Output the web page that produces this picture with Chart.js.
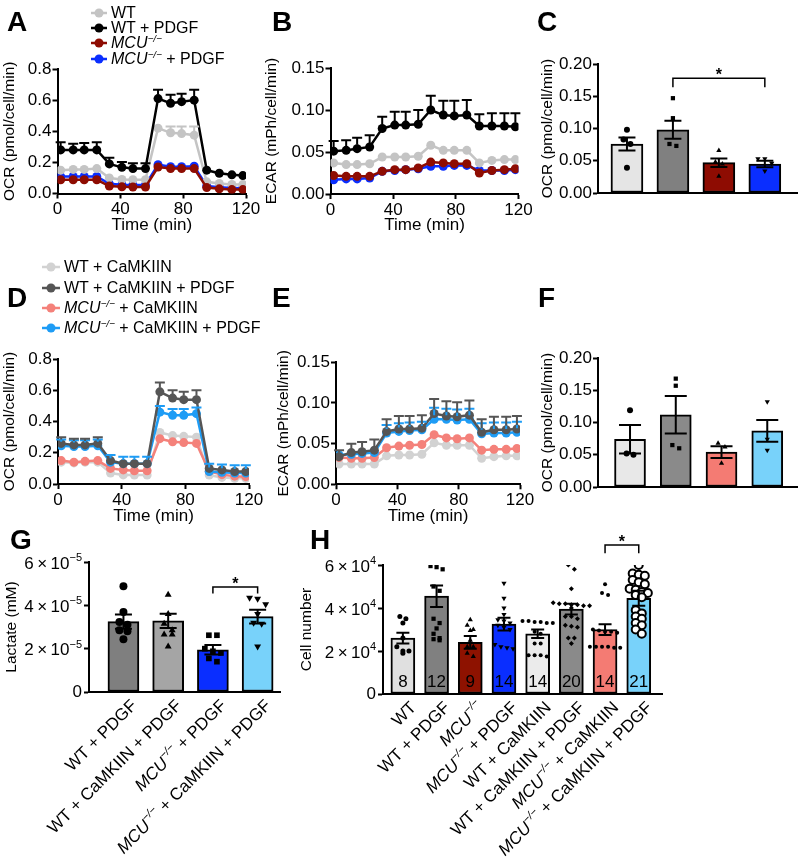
<!DOCTYPE html>
<html>
<head>
<meta charset="utf-8">
<title>OCR / ECAR / lactate / cell number</title>
<script src="https://cdn.jsdelivr.net/npm/chart.js@4.4.1/dist/chart.umd.min.js"></script>
<style>
  body { margin: 0; background: #fff; }
  #fig { position: relative; width: 800px; height: 866px; overflow: hidden; font-family: Arial, "Liberation Sans", sans-serif; color: #000; }
  #fig canvas { position: absolute; left: 0; top: 0; }
  .letter { position: absolute; font-size: 28px; font-weight: bold; line-height: 28px; }
  .key { position: absolute; height: 16px; display: flex; align-items: center; font-size: 16px; white-space: nowrap; }
  .key svg { margin-right: 4px; flex: none; }
  .key span { white-space: pre; }
  .key sup { font-size: 62%; vertical-align: 0.6em; line-height: 0; }
</style>
</head>
<body>
<div id="fig">
  <canvas id="chartA" width="800" height="866"></canvas>
  <canvas id="chartB" width="800" height="866"></canvas>
  <canvas id="chartC" width="800" height="866"></canvas>
  <canvas id="chartD" width="800" height="866"></canvas>
  <canvas id="chartE" width="800" height="866"></canvas>
  <canvas id="chartF" width="800" height="866"></canvas>
  <canvas id="chartG" width="800" height="866"></canvas>
  <canvas id="chartH" width="800" height="866"></canvas>
</div>
<script>
const FONT = 'Arial, "Liberation Sans", Helvetica, sans-serif';
const PAGE_W = 800, PAGE_H = 866;

// ---- data ----
const timeMin = [2, 10, 17, 25, 33, 41, 48, 56, 64, 72, 79, 87, 95, 103, 111, 118];

const groupsTop = ['WT', 'WT + PDGF', 'MCU−/−', 'MCU−/− + PDGF'];
const colorsTop = ['#c4c4c4', '#000000', '#8e0c02', '#0a2eff'];
const groupsMid = ['WT + CaMKIIN', 'WT + CaMKIIN + PDGF', 'MCU−/− + CaMKIIN', 'MCU−/− + CaMKIIN + PDGF'];
const colorsMid = ['#d2d2d2', '#555555', '#f4817a', '#1e9cf5'];

// A: OCR
const aWT = [0.150, 0.155, 0.155, 0.160, 0.100, 0.090, 0.088, 0.088, 0.420, 0.390, 0.385, 0.375, 0.075, 0.065, 0.058, 0.058];
const aWTerr = [0.012, 0.010, 0.010, 0.010, 0.008, 0.008, 0.008, 0.008, 0.032, 0.040, 0.045, 0.055, 0.008, 0.008, 0.008, 0.008];
const aWTpdgf = [0.280, 0.280, 0.280, 0.280, 0.190, 0.168, 0.160, 0.160, 0.610, 0.580, 0.590, 0.600, 0.150, 0.130, 0.120, 0.115];
const aWTpdgfErr = [0.050, 0.040, 0.045, 0.050, 0.040, 0.035, 0.035, 0.035, 0.057, 0.054, 0.051, 0.067, 0.018, 0.025, 0.026, 0.031];
const aMCU = [0.088, 0.088, 0.088, 0.088, 0.048, 0.043, 0.042, 0.042, 0.170, 0.160, 0.160, 0.160, 0.038, 0.030, 0.025, 0.025];
const aMCUerr = [0.006, 0.006, 0.006, 0.006, 0.005, 0.005, 0.005, 0.005, 0.008, 0.008, 0.008, 0.008, 0.005, 0.005, 0.005, 0.005];
const aMCUpdgf = [0.110, 0.110, 0.110, 0.110, 0.062, 0.057, 0.055, 0.055, 0.185, 0.172, 0.172, 0.175, 0.048, 0.040, 0.036, 0.034];
const aMCUpdgfErr = [0.008, 0.008, 0.008, 0.008, 0.006, 0.006, 0.006, 0.006, 0.010, 0.010, 0.010, 0.010, 0.006, 0.006, 0.006, 0.006];

// B: ECAR
const bWT = [0.037, 0.035, 0.035, 0.036, 0.044, 0.044, 0.044, 0.045, 0.058, 0.052, 0.052, 0.052, 0.037, 0.040, 0.041, 0.041];
const bWTerr = [0.004, 0.004, 0.004, 0.004, 0.004, 0.004, 0.004, 0.004, 0.004, 0.004, 0.004, 0.004, 0.004, 0.004, 0.004, 0.004];
const bWTpdgf = [0.051, 0.052, 0.054, 0.056, 0.078, 0.082, 0.082, 0.083, 0.100, 0.094, 0.093, 0.094, 0.081, 0.081, 0.081, 0.080];
const bWTpdgfErr = [0.012, 0.012, 0.013, 0.014, 0.014, 0.016, 0.016, 0.017, 0.017, 0.017, 0.018, 0.018, 0.014, 0.015, 0.015, 0.016];
const bMCU = [0.022, 0.021, 0.021, 0.021, 0.027, 0.029, 0.029, 0.031, 0.038, 0.037, 0.036, 0.036, 0.025, 0.028, 0.029, 0.030];
const bMCUerr = [0.002, 0.002, 0.002, 0.002, 0.002, 0.002, 0.002, 0.002, 0.002, 0.002, 0.002, 0.002, 0.002, 0.002, 0.002, 0.002];
const bMCUpdgf = [0.017, 0.018, 0.018, 0.019, 0.027, 0.028, 0.029, 0.030, 0.033, 0.033, 0.034, 0.034, 0.028, 0.028, 0.028, 0.029];
const bMCUpdgfErr = [0.002, 0.002, 0.002, 0.002, 0.002, 0.002, 0.002, 0.002, 0.002, 0.002, 0.002, 0.002, 0.002, 0.002, 0.002, 0.002];

// C: OCR summary
const cMean = [0.076, 0.098, 0.047, 0.045];
const cSem = [0.010, 0.014, 0.0065, 0.005];
const cPts = [[0.098, 0.083, 0.076, 0.039], [0.147, 0.116, 0.076, 0.073], [0.066, 0.048, 0.045, 0.026], [0.053, 0.053, 0.046, 0.034]];
const cSig = [1, 3, 0.178, 0.164];

// D: OCR with CaMKIIN
const dWT = [0.140, 0.135, 0.140, 0.140, 0.070, 0.058, 0.057, 0.057, 0.330, 0.310, 0.305, 0.300, 0.057, 0.042, 0.037, 0.036];
const dWTerr = [0.010, 0.010, 0.010, 0.010, 0.008, 0.008, 0.008, 0.008, 0.010, 0.010, 0.010, 0.010, 0.008, 0.008, 0.008, 0.008];
const dWTpdgf = [0.260, 0.250, 0.250, 0.260, 0.150, 0.130, 0.130, 0.130, 0.590, 0.550, 0.540, 0.540, 0.100, 0.090, 0.080, 0.080];
const dWTpdgfErr = [0.040, 0.040, 0.040, 0.040, 0.030, 0.030, 0.030, 0.030, 0.060, 0.050, 0.050, 0.060, 0.030, 0.030, 0.030, 0.030];
const dMCU = [0.150, 0.140, 0.145, 0.150, 0.100, 0.090, 0.085, 0.085, 0.290, 0.270, 0.265, 0.260, 0.080, 0.060, 0.050, 0.047];
const dMCUerr = [0.010, 0.010, 0.010, 0.010, 0.010, 0.010, 0.010, 0.010, 0.010, 0.010, 0.010, 0.010, 0.010, 0.010, 0.010, 0.010];
const dMCUpdgf = [0.245, 0.240, 0.240, 0.245, 0.140, 0.130, 0.130, 0.130, 0.460, 0.440, 0.440, 0.450, 0.080, 0.075, 0.070, 0.070];
const dMCUpdgfErr = [0.040, 0.040, 0.040, 0.040, 0.045, 0.045, 0.045, 0.045, 0.040, 0.040, 0.040, 0.040, 0.050, 0.050, 0.050, 0.050];

// E: ECAR with CaMKIIN
const eWT = [0.025, 0.025, 0.025, 0.025, 0.035, 0.036, 0.036, 0.037, 0.051, 0.048, 0.048, 0.048, 0.032, 0.034, 0.035, 0.035];
const eWTerr = [0.003, 0.003, 0.003, 0.003, 0.003, 0.003, 0.003, 0.003, 0.003, 0.003, 0.003, 0.003, 0.003, 0.003, 0.003, 0.003];
const eWTpdgf = [0.034, 0.039, 0.040, 0.042, 0.065, 0.068, 0.068, 0.069, 0.087, 0.084, 0.083, 0.085, 0.064, 0.067, 0.067, 0.068];
const eWTpdgfErr = [0.008, 0.011, 0.012, 0.013, 0.015, 0.016, 0.016, 0.016, 0.018, 0.018, 0.018, 0.018, 0.016, 0.016, 0.016, 0.016];
const eMCU = [0.033, 0.032, 0.032, 0.033, 0.045, 0.047, 0.048, 0.049, 0.061, 0.057, 0.056, 0.057, 0.042, 0.043, 0.043, 0.044];
const eMCUerr = [0.006, 0.006, 0.006, 0.006, 0.006, 0.006, 0.006, 0.006, 0.006, 0.006, 0.006, 0.006, 0.006, 0.006, 0.006, 0.006];
const eMCUpdgf = [0.036, 0.037, 0.038, 0.039, 0.063, 0.065, 0.066, 0.067, 0.080, 0.080, 0.079, 0.080, 0.062, 0.063, 0.063, 0.064];
const eMCUpdgfErr = [0.006, 0.006, 0.006, 0.006, 0.010, 0.010, 0.010, 0.010, 0.014, 0.013, 0.013, 0.013, 0.013, 0.013, 0.013, 0.013];

// F: OCR summary with CaMKIIN
const fMean = [0.074, 0.112, 0.054, 0.087];
const fSem = [0.022, 0.029, 0.009, 0.017];
const fPts = [[0.119, 0.052, 0.050], [0.168, 0.157, 0.065, 0.060], [0.068, 0.062, 0.037], [0.132, 0.074, 0.057]];

// G: lactate
const gLabels = ['WT + PDGF', 'WT + CaMKIIN + PDGF', 'MCU−/− + PDGF', 'MCU−/− + CaMKIIN + PDGF'];
const gMean = [3.25e-5, 3.28e-5, 1.95e-5, 3.48e-5];
const gSem = [0.33e-5, 0.33e-5, 0.22e-5, 0.32e-5];
const gPts = [
  [4.88e-5, 3.69e-5, 3.23e-5, 3.10e-5, 2.85e-5, 2.80e-5, 2.43e-5],
  [4.49e-5, 3.60e-5, 3.15e-5, 2.85e-5, 2.65e-5, 2.65e-5, 2.10e-5],
  [2.62e-5, 2.62e-5, 2.00e-5, 1.88e-5, 1.80e-5, 1.55e-5, 1.40e-5],
  [4.35e-5, 4.30e-5, 4.05e-5, 3.60e-5, 3.20e-5, 3.15e-5, 2.10e-5]
];
const gSig = [2, 3, 4.85e-5, 4.55e-5];

// H: cell number
const hLabels = ['WT', 'WT + PDGF', 'MCU−/−', 'MCU−/− + PDGF', 'WT + CaMKIIN', 'WT + CaMKIIN + PDGF', 'MCU−/− + CaMKIIN', 'MCU−/− + CaMKIIN + PDGF'];
const hMean = [2.6e4, 4.55e4, 2.4e4, 3.25e4, 2.8e4, 3.95e4, 3.0e4, 4.45e4];
const hSem = [0.25e4, 0.5e4, 0.3e4, 0.3e4, 0.2e4, 0.25e4, 0.25e4, 0.35e4];
const hN = [8, 12, 9, 14, 14, 20, 14, 21];
const hPts = [
  [3.6e4, 3.5e4, 3.3e4, 2.6e4, 2.2e4, 2.0e4, 2.0e4, 1.9e4],
  [5.95e4, 5.9e4, 5.8e4, 5.0e4, 4.8e4, 3.5e4, 3.3e4, 3.05e4, 2.8e4, 2.6e4, 2.55e4, 2.5e4],
  [3.45e4, 3.2e4, 3.0e4, 2.95e4, 2.5e4, 2.2e4, 2.2e4, 1.9e4, 1.75e4],
  [5.15e4, 4.45e4, 4.0e4, 3.7e4, 3.45e4, 3.4e4, 3.3e4, 3.2e4, 3.1e4, 3.0e4, 2.3e4, 2.2e4, 2.15e4, 2.1e4],
  [3.4e4, 3.4e4, 3.35e4, 3.35e4, 3.3e4, 3.3e4, 2.9e4, 2.8e4, 2.35e4, 2.35e4, 1.8e4, 1.8e4, 1.8e4, 1.75e4],
  [6.0e4, 5.8e4, 4.9e4, 4.25e4, 4.2e4, 4.2e4, 4.15e4, 4.15e4, 4.1e4, 4.1e4, 4.0e4, 3.6e4, 3.6e4, 3.5e4, 3.2e4, 3.15e4, 3.1e4, 2.6e4, 2.6e4, 2.35e4],
  [5.1e4, 4.7e4, 4.6e4, 3.0e4, 2.95e4, 2.9e4, 2.9e4, 2.85e4, 2.2e4, 2.2e4, 2.2e4, 2.2e4, 2.15e4, 2.15e4],
  [6.0e4, 5.6e4, 5.55e4, 5.5e4, 5.3e4, 5.2e4, 5.1e4, 4.9e4, 4.85e4, 4.75e4, 4.7e4, 4.6e4, 4.5e4, 3.9e4, 3.75e4, 3.6e4, 3.5e4, 3.3e4, 3.2e4, 3.0e4, 2.8e4]
];
const hSig = [6, 7, 6.93e4, 6.55e4];

// ---- helpers ----
function richParts(s) {
  const parts = [];
  s.split(/(MCU−\/−)/).forEach(p => {
    if (!p) return;
    if (p === 'MCU−/−') { parts.push({ t: 'MCU', i: true }); parts.push({ t: '−/−', i: true, sup: true }); }
    else parts.push({ t: p });
  });
  return parts;
}

function drawRich(ctx, parts, x, y, align, size) {
  const fontOf = p => (p.i ? 'italic ' : '') + (p.sup ? Math.round(size * 0.62) : size) + 'px ' + FONT;
  let w = 0;
  parts.forEach(p => { ctx.font = fontOf(p); p.w = ctx.measureText(p.t).width; w += p.w; });
  let cx = align === 'right' ? x - w : align === 'center' ? x - w / 2 : x;
  ctx.textAlign = 'left';
  ctx.textBaseline = 'middle';
  parts.forEach(p => {
    ctx.font = fontOf(p);
    ctx.fillText(p.t, cx, p.sup ? y - size * 0.36 : y);
    cx += p.w;
  });
}

function richHTML(s) {
  return '<span>' + s.replace(/MCU−\/−/g, '<i>MCU</i><sup><i>−/−</i></sup>') + '</span>';
}

function swarm(vals, thr, step) {
  const order = vals.map((v, i) => i).sort((a, b) => vals[b] - vals[a]);
  const off = vals.map(() => 0);
  let grp = [];
  const flush = () => { grp.forEach((k, j) => { off[k] = (j - (grp.length - 1) / 2) * step; }); grp = []; };
  order.forEach(k => {
    if (grp.length && vals[grp[0]] - vals[k] > thr) flush();
    grp.push(k);
  });
  flush();
  return off;
}

function layoutFor(area, yW, xH) {
  return { padding: { left: area.l - yW, top: area.t, right: PAGE_W - area.r, bottom: PAGE_H - area.b - xH } };
}

function axisY(min, max, step, title, yW, fmt) {
  return {
    type: 'linear', min: min, max: max,
    afterFit(s) { s.width = yW; },
    border: { display: true, color: '#000', width: 2 },
    grid: { drawOnChartArea: false, drawTicks: true, tickLength: 5, tickWidth: 2, tickColor: '#000' },
    ticks: { stepSize: step, padding: 1, color: '#000', font: { family: FONT, size: 17 }, callback: fmt },
    title: { display: true, text: title, color: '#000', padding: 0, font: { family: FONT, size: 15.5, lineHeight: 1.2 } }
  };
}

function axisTime(xH) {
  return {
    type: 'linear', min: 0, max: 120,
    afterFit(s) { s.height = xH; },
    border: { display: true, color: '#000', width: 2 },
    grid: { drawOnChartArea: false, drawTicks: true, tickLength: 5, tickWidth: 2, tickColor: '#000' },
    ticks: { stepSize: 40, padding: 1, maxRotation: 0, autoSkip: false, color: '#000', font: { family: FONT, size: 17 } },
    title: { display: true, text: 'Time (min)', color: '#000', padding: 0, font: { family: FONT, size: 17, lineHeight: 1.2 } }
  };
}

// upward error whiskers on the time courses
const upErrors = {
  id: 'upErrors',
  afterDatasetsDraw(chart) {
    const { ctx, scales: { x, y } } = chart;
    ctx.save();
    ctx.lineWidth = 2;
    chart.data.datasets.slice().sort((a, b) => b.order - a.order).forEach(ds => {
      ctx.strokeStyle = ds.borderColor;
      ds.data.forEach((p, i) => {
        const px = x.getPixelForValue(p.x);
        const top = y.getPixelForValue(p.y + ds.err[i]);
        const base = y.getPixelForValue(p.y) - 4;
        if (base - top < 1) return;
        ctx.beginPath();
        ctx.moveTo(px, base); ctx.lineTo(px, top);
        ctx.moveTo(px - 5, top); ctx.lineTo(px + 5, top);
        ctx.stroke();
      });
    });
    ctx.restore();
  }
};

// mean +/- SEM on bars
const semBars = {
  id: 'semBars',
  afterDatasetsDraw(chart) {
    const { ctx, scales: { x, y } } = chart;
    chart.data.datasets.forEach(ds => {
      if (!ds.sem) return;
      ctx.save();
      ctx.strokeStyle = '#000';
      ctx.lineWidth = 2;
      ds.data.forEach((p, i) => {
        const px = x.getPixelForValue(p.x);
        const hi = y.getPixelForValue(p.y + ds.sem[i]);
        const lo = y.getPixelForValue(p.y - ds.sem[i]);
        const h = ds.capW / 2;
        ctx.beginPath();
        ctx.moveTo(px, hi); ctx.lineTo(px, lo);
        ctx.moveTo(px - h, hi); ctx.lineTo(px + h, hi);
        ctx.moveTo(px - h, lo); ctx.lineTo(px + h, lo);
        ctx.stroke();
      });
      ctx.restore();
    });
  }
};

function bracket(chart, sig) {
  const { ctx, scales: { x, y } } = chart;
  const x0 = x.getPixelForValue(sig[0]), x1 = x.getPixelForValue(sig[1]);
  const py = y.getPixelForValue(sig[2]), pl = y.getPixelForValue(sig[3]);
  ctx.save();
  ctx.strokeStyle = '#000';
  ctx.lineWidth = 1.5;
  ctx.beginPath();
  ctx.moveTo(x0, pl); ctx.lineTo(x0, py); ctx.lineTo(x1, py); ctx.lineTo(x1, pl);
  ctx.stroke();
  ctx.fillStyle = '#000';
  ctx.font = 'bold 16px ' + FONT;
  ctx.textAlign = 'center';
  ctx.textBaseline = 'alphabetic';
  ctx.fillText('*', (x0 + x1) / 2, py + 2);
  ctx.restore();
}

function sciTicks(chart, exp) {
  const { ctx, scales: { y } } = chart;
  ctx.save();
  ctx.fillStyle = '#000';
  y.ticks.forEach(t => {
    const py = y.getPixelForValue(t.value);
    if (t.value === 0) { drawRich(ctx, [{ t: '0' }], y.right - 7, py, 'right', 17); return; }
    const mant = Math.round(t.value / Math.pow(10, exp));
    const expTxt = exp < 0 ? '−' + (-exp) : String(exp);
    drawRich(ctx, [{ t: mant + '\u2009×\u200910' }, { t: expTxt, sup: true }], y.right - 7, py + 2, 'right', 17);
  });
  ctx.restore();
}

function slantLabels(chart, labels) {
  const { ctx, scales: { x, y } } = chart;
  const base = y.getPixelForValue(0);
  ctx.save();
  ctx.fillStyle = '#000';
  labels.forEach((lab, i) => {
    ctx.save();
    ctx.translate(x.getPixelForValue(i) + 11, base + 11);
    ctx.rotate(-Math.PI / 4);
    drawRich(ctx, richParts(lab), 0, 0, 'right', 17);
    ctx.restore();
  });
  ctx.restore();
}

function timeChart(id, area, yW, xH, yMax, yStep, yDec, yTitle, series) {
  return new Chart(document.getElementById(id), {
    type: 'line',
    data: {
      datasets: series.map(s => ({
        data: timeMin.map((t, i) => ({ x: t, y: s.vals[i] })),
        err: s.err, order: s.order,
        borderColor: s.color, backgroundColor: s.color,
        borderWidth: 2.5, pointRadius: 4.5, pointHoverRadius: 4.5, pointBorderWidth: 0, tension: 0
      }))
    },
    options: {
      responsive: false, animation: false, events: [],
      layout: layoutFor(area, yW, xH),
      plugins: { legend: { display: false }, tooltip: { enabled: false } },
      scales: {
        x: axisTime(xH),
        y: axisY(0, yMax, yStep, yTitle, yW, v => Number(v).toFixed(yDec))
      }
    },
    plugins: [upErrors]
  });
}

function barChart(o) {
  const scatter = o.pts.map((vals, i) => {
    const off = swarm(vals, o.thr, o.step);
    const m = o.marks[i];
    return {
      type: 'scatter', order: 0,
      data: vals.map((v, k) => ({ x: i + off[k], y: v })),
      pointStyle: m.style, pointRadius: m.r, pointHoverRadius: m.r, pointRotation: m.rot || 0,
      backgroundColor: m.fill || '#000', borderColor: '#000', borderWidth: m.bw || 0
    };
  });
  const bars = {
    type: 'bar', order: 1,
    data: o.mean.map((v, i) => ({ x: i, y: v })),
    sem: o.sem, capW: o.capW,
    backgroundColor: o.colors, borderColor: '#000', borderWidth: 2, borderSkipped: false,
    barThickness: o.barW
  };
  const yAx = axisY(0, o.yMax, o.yStep, o.yTitle, o.yW, o.fmt);
  return new Chart(document.getElementById(o.id), {
    type: 'bar',
    data: { datasets: scatter.concat([bars]) },
    options: {
      responsive: false, animation: false, events: [],
      layout: layoutFor(o.area, o.yW, o.xH),
      plugins: { legend: { display: false }, tooltip: { enabled: false } },
      scales: {
        x: {
          type: 'linear', min: o.xMin, max: o.xMax, offset: false,
          afterFit(s) { s.height = o.xH; },
          border: { display: true, color: '#000', width: 2 },
          grid: { display: false }, ticks: { display: false }
        },
        y: yAx
      }
    },
    plugins: [semBars, { id: 'deco', afterDraw(chart) { if (o.draw) o.draw(chart); } }]
  });
}

// ---- A / B ----
timeChart('chartA', { l: 57.5, r: 246, t: 69, b: 193.5 }, 56.8, 41.7, 0.8, 0.2, 1, 'OCR (pmol/cell/min)', [
  { vals: aWTpdgf, err: aWTpdgfErr, color: colorsTop[1], order: 0 },
  { vals: aMCU, err: aMCUerr, color: colorsTop[2], order: 1 },
  { vals: aWT, err: aWTerr, color: colorsTop[0], order: 2 },
  { vals: aMCUpdgf, err: aMCUpdgfErr, color: colorsTop[3], order: 3 }
]);
timeChart('chartB', { l: 330.5, r: 518.5, t: 68, b: 194 }, 67.8, 41.2, 0.15, 0.05, 2, 'ECAR (mPh/cell/min)', [
  { vals: bWTpdgf, err: bWTpdgfErr, color: colorsTop[1], order: 0 },
  { vals: bMCU, err: bMCUerr, color: colorsTop[2], order: 1 },
  { vals: bWT, err: bWTerr, color: colorsTop[0], order: 2 },
  { vals: bMCUpdgf, err: bMCUpdgfErr, color: colorsTop[3], order: 3 }
]);

// ---- C ----
barChart({
  id: 'chartC', area: { l: 598, r: 797, t: 64, b: 193 }, yW: 59.3, xH: 8,
  xMin: -0.63, xMax: 3.7, yMax: 0.2, yStep: 0.05, yTitle: 'OCR (pmol/cell/min)', fmt: v => Number(v).toFixed(2),
  mean: cMean, sem: cSem, pts: cPts, colors: ['#e5e5e5', '#808080', '#8e0c02', '#0a2eff'],
  marks: [{ style: 'circle', r: 3 }, { style: 'rect', r: 3 }, { style: 'triangle', r: 3 }, { style: 'triangle', r: 3, rot: 180 }],
  barW: 32, capW: 17, thr: 0.009, step: 0.15,
  draw: chart => bracket(chart, cSig)
});

// ---- D / E ----
timeChart('chartD', { l: 58, r: 249, t: 359, b: 484 }, 57.3, 42.2, 0.8, 0.2, 1, 'OCR (pmol/cell/min)', [
  { vals: dWTpdgf, err: dWTpdgfErr, color: colorsMid[1], order: 0 },
  { vals: dMCUpdgf, err: dMCUpdgfErr, color: colorsMid[3], order: 1 },
  { vals: dMCU, err: dMCUerr, color: colorsMid[2], order: 2 },
  { vals: dWT, err: dWTerr, color: colorsMid[0], order: 3 }
]);
timeChart('chartE', { l: 336, r: 520, t: 362.3, b: 484.3 }, 61.3, 41.9, 0.15, 0.05, 2, 'ECAR (mPh/cell/min)', [
  { vals: eWTpdgf, err: eWTpdgfErr, color: colorsMid[1], order: 0 },
  { vals: eMCUpdgf, err: eMCUpdgfErr, color: colorsMid[3], order: 1 },
  { vals: eMCU, err: eMCUerr, color: colorsMid[2], order: 2 },
  { vals: eWT, err: eWTerr, color: colorsMid[0], order: 3 }
]);

// ---- F ----
barChart({
  id: 'chartF', area: { l: 598, r: 797, t: 358, b: 487 }, yW: 59.3, xH: 8,
  xMin: -0.7, xMax: 3.65, yMax: 0.2, yStep: 0.05, yTitle: 'OCR (pmol/cell/min)', fmt: v => Number(v).toFixed(2),
  mean: fMean, sem: fSem, pts: fPts, colors: ['#e8e8e8', '#8a8a8a', '#f47b73', '#78d2fa'],
  marks: [{ style: 'circle', r: 3 }, { style: 'rect', r: 3 }, { style: 'triangle', r: 3 }, { style: 'triangle', r: 3, rot: 180 }],
  barW: 31, capW: 22, thr: 0.009, step: 0.15
});

// ---- G ----
barChart({
  id: 'chartG', area: { l: 89, r: 280, t: 562, b: 692 }, yW: 86.8, xH: 8,
  xMin: -0.77, xMax: 3.5, yMax: 6e-5, yStep: 2e-5, yTitle: 'Lactate (mM)', fmt: () => '',
  mean: gMean, sem: gSem, pts: gPts, colors: ['#7f7f7f', '#a5a5a5', '#0a2eff', '#78d2fa'],
  marks: [{ style: 'circle', r: 4 }, { style: 'triangle', r: 4 }, { style: 'rect', r: 4 }, { style: 'triangle', r: 4, rot: 180 }],
  barW: 31, capW: 17, thr: 3.2e-6, step: 0.18,
  draw: chart => { bracket(chart, gSig); sciTicks(chart, -5); slantLabels(chart, gLabels); }
});

// ---- H ----
barChart({
  id: 'chartH', area: { l: 383, r: 662, t: 565, b: 694 }, yW: 85.7, xH: 8,
  xMin: -0.59, xMax: 7.69, yMax: 6e4, yStep: 2e4, yTitle: 'Cell number', fmt: () => '',
  mean: hMean, sem: hSem, pts: hPts,
  colors: ['#e0e0e0', '#808080', '#8e1200', '#0a2eff', '#ebebeb', '#8a8a8a', '#f47b73', '#78d2fa'],
  marks: [
    { style: 'circle', r: 2.5 }, { style: 'rect', r: 3 }, { style: 'triangle', r: 3 }, { style: 'triangle', r: 3, rot: 180 },
    { style: 'circle', r: 2 }, { style: 'rectRot', r: 2.5 }, { style: 'circle', r: 2 }, { style: 'circle', r: 4, fill: '#fff', bw: 2 }
  ],
  barW: 24, capW: 13, thr: 2300, step: 0.18,
  draw: chart => {
    bracket(chart, hSig);
    sciTicks(chart, 4);
    slantLabels(chart, hLabels);
    const { ctx, scales: { x, y } } = chart;
    ctx.save();
    ctx.fillStyle = '#000';
    ctx.font = '17px ' + FONT;
    ctx.textAlign = 'center';
    ctx.textBaseline = 'middle';
    hN.forEach((n, i) => ctx.fillText(String(n), x.getPixelForValue(i), y.getPixelForValue(0) - 12));
    ctx.restore();
  }
});

// ---- legends and panel letters ----
const fig = document.getElementById('fig');
function addKey(names, colors, x, ys, w) {
  names.forEach((n, i) => {
    const d = document.createElement('div');
    d.className = 'key';
    d.style.left = x + 'px';
    d.style.top = (ys[i] - 8) + 'px';
    d.innerHTML = '<svg width="' + w + '" height="10"><line x1="0" y1="5" x2="' + w + '" y2="5" stroke="' + colors[i] +
      '" stroke-width="2.5"/><circle cx="' + (w / 2) + '" cy="5" r="4.5" fill="' + colors[i] + '"/></svg>' + richHTML(n);
    fig.appendChild(d);
  });
}
addKey(groupsTop, colorsTop, 91, [12.5, 27.5, 43, 58.5], 16);
addKey(groupsMid, colorsMid, 42, [267, 288, 308, 328], 18);

[['A', 7, 8], ['B', 272, 8], ['C', 537, 8], ['D', 7, 284], ['E', 272, 284], ['F', 538, 284], ['G', 10, 526], ['H', 310, 526]]
  .forEach(([t, x, y]) => {
    const d = document.createElement('div');
    d.className = 'letter';
    d.style.left = x + 'px';
    d.style.top = y + 'px';
    d.textContent = t;
    fig.appendChild(d);
  });
</script>
</body>
</html>
